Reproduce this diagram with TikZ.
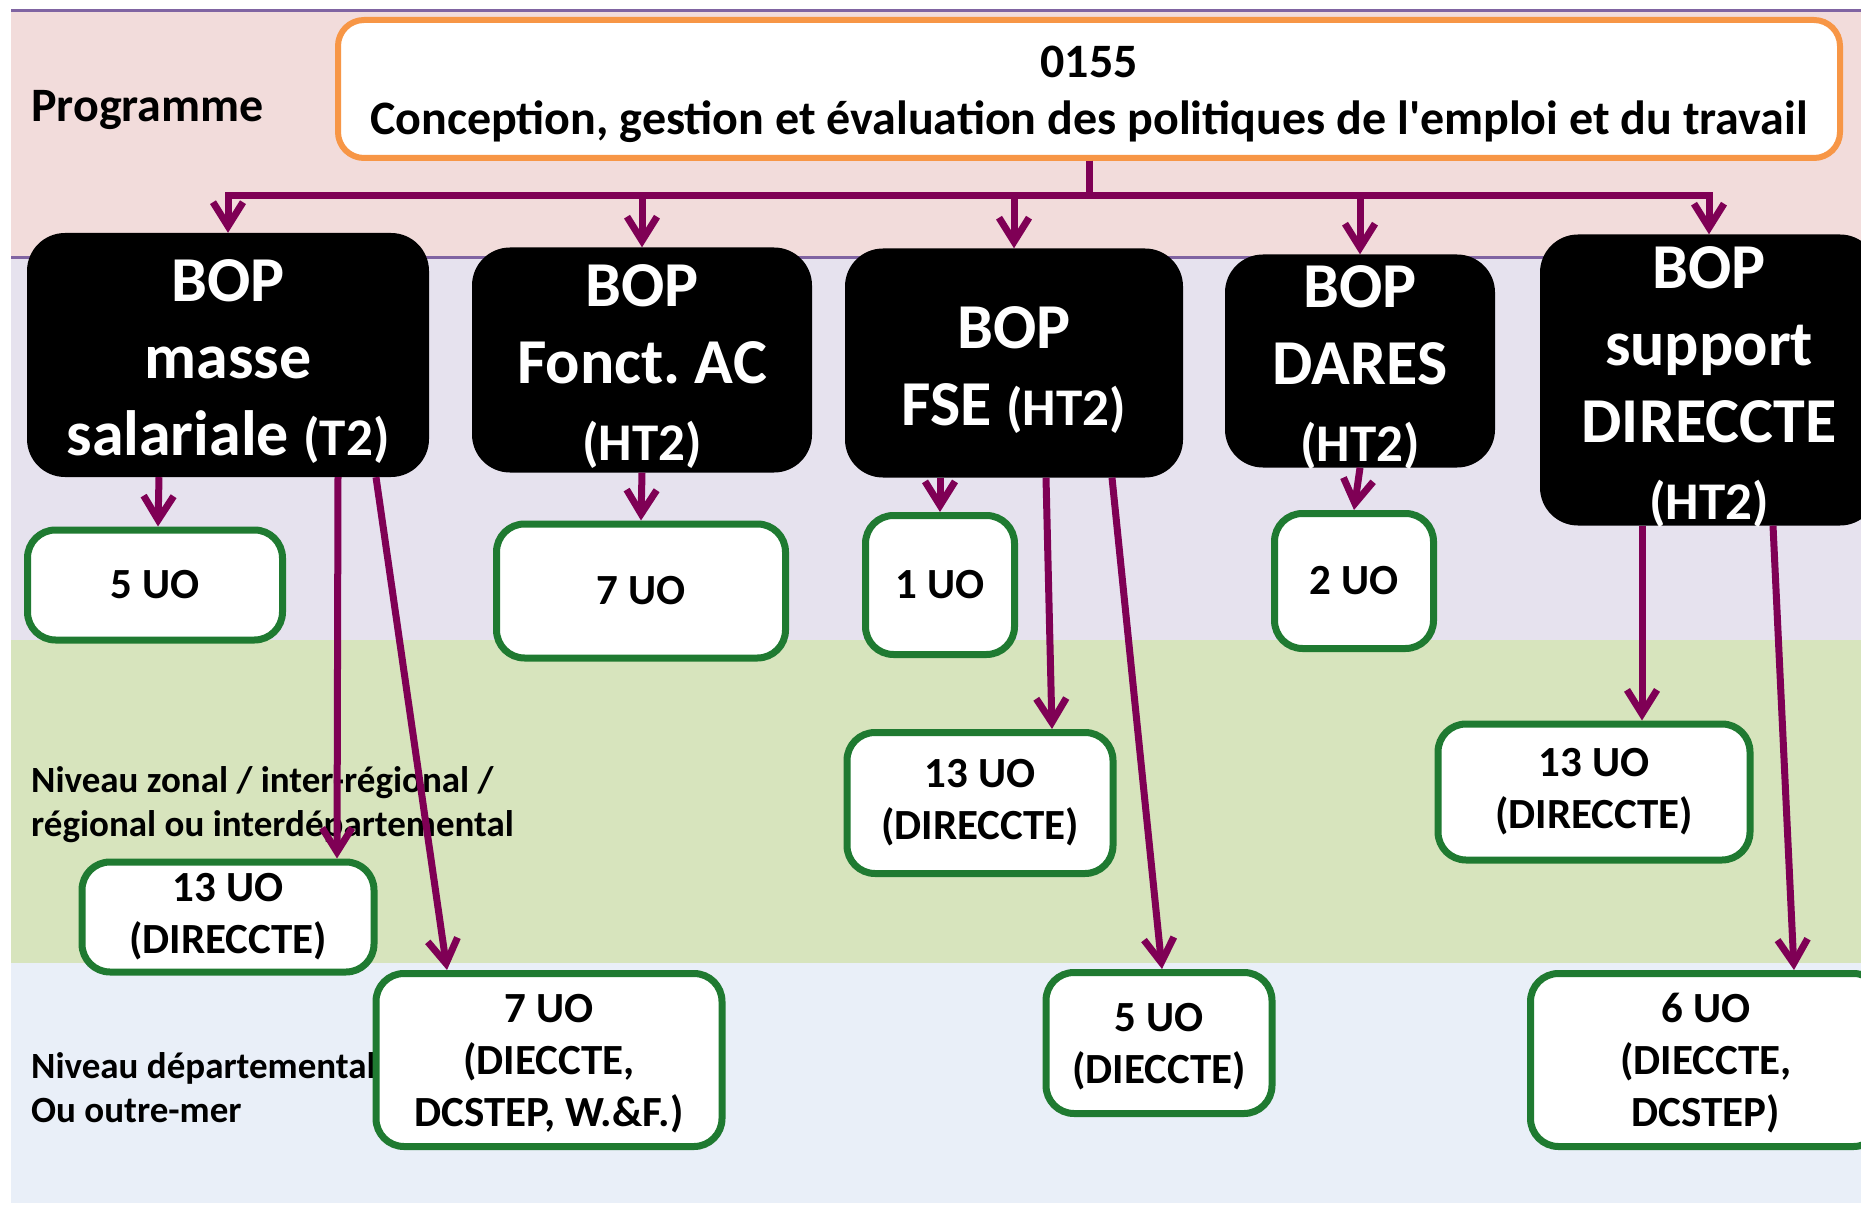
\documentclass[tikz,border=0pt]{standalone}
\usepackage{fontspec}
\setmainfont{Carlito}
\usetikzlibrary{
   arrows.meta,
   positioning
}

\definecolor{pinkband}{HTML}{F2DCDB}
\definecolor{lavband}{HTML}{E6E2EE}
\definecolor{greenband}{HTML}{D7E4BD}
\definecolor{blueband}{HTML}{E9EFF8}
\definecolor{bandline}{HTML}{8064A2}
\definecolor{linkpurple}{HTML}{7F0055}
\definecolor{uogreen}{HTML}{1F7A31}
\definecolor{progorange}{HTML}{F79646}

\newcommand{\htpart}[1]{{\fontsize{53}{64}\selectfont #1}}
\frenchspacing

\begin{document}
\begin{tikzpicture}[
    x=1pt, y=-1pt,
    bop/.style={rectangle, fill=black, rounded corners=38pt, inner sep=0pt},
    boptxt/.style={text=white, align=center, inner sep=0pt, yshift=-7pt, font=\bfseries\fontsize{64}{77}\selectfont},
    uo/.style={rectangle, draw=uogreen, line width=7pt, fill=white, rounded corners=28pt, inner sep=0pt, align=center, font=\bfseries\fontsize{43}{52}\selectfont},
    lvl/.style={anchor=west, align=left, inner sep=0pt, font=\bfseries\fontsize{37}{44}\selectfont},
    link/.style={draw=linkpurple, line width=7pt, -{Straight Barb[length=24pt,width=30pt]}}
]
\useasboundingbox (0,0) rectangle (1861,1206);

% level bands
\fill[pinkband] (11,11) rectangle (1861,258);
\fill[lavband] (11,258) rectangle (1861,640);
\fill[greenband] (11,640) rectangle (1861,963);
\fill[blueband] (11,963) rectangle (1861,1203);
\draw[bandline, line width=3pt] (11,11) -- (1861,11);
\draw[bandline, line width=3pt] (11,258) -- (1861,258);

% level labels
\node[lvl, anchor=base west, font=\bfseries\fontsize{48}{56}\selectfont] (progLbl) at (31,122) {Programme};
\node[lvl] (zonLbl) at (31,805) {Niveau zonal / inter-régional /\\régional ou interdépartemental};
\node[lvl] (depLbl) at (31,1088) {Niveau départemental\\Ou outre-mer};

% programme
\node[rectangle, draw=progorange, line width=6pt, fill=white, rounded corners=26pt,
      minimum width=1502pt, minimum height=138pt, align=center,
      font=\bfseries\fontsize{48}{57}\selectfont] (prog) at (1089,89)
      {\rule{0pt}{42pt}0155\\Conception, gestion et évaluation des politiques de l\textquotesingle emploi et du travail};

% BOP
\node[bop, minimum width=402pt, minimum height=244pt] (masse) at (228,355) {};
\node[boptxt] (masseTxt) at (masse) {BOP\\masse\\salariale \htpart{(T2)}};
\node[bop, minimum width=340pt, minimum height=225pt] (fonct) at (642,360) {};
\node[boptxt] (fonctTxt) at (fonct) {BOP\\Fonct. AC\\\htpart{(HT2)}};
\node[bop, minimum width=338pt, minimum height=229pt] (fse) at (1014,363) {};
\node[boptxt] (fseTxt) at (fse) {BOP\\FSE \htpart{(HT2)}};
\node[bop, minimum width=270pt, minimum height=213pt] (dares) at (1360,361) {};
\node[boptxt] (daresTxt) at (dares) {BOP\\DARES\\\htpart{(HT2)}};
\node[bop, minimum width=338pt, minimum height=291pt] (support) at (1709,380) {};
\node[boptxt] (supportTxt) at (support) {BOP\\support\\DIRECCTE\\\htpart{(HT2)}};

% UO
\node[uo, minimum width=255pt, minimum height=110pt] (uo5a) at (155,585) {5 UO};
\node[uo, minimum width=289pt, minimum height=134pt] (uo7a) at (641,591) {7 UO};
\node[uo, minimum width=149pt, minimum height=139pt] (uo1) at (940,585) {1 UO};
\node[uo, minimum width=159pt, minimum height=135pt] (uo2) at (1354,581) {2 UO};
\node[uo, minimum width=266pt, minimum height=141pt] (uo13b) at (980,803) {13 UO\\(DIRECCTE)};
\node[uo, minimum width=312pt, minimum height=136pt] (uo13c) at (1594,792) {13 UO\\(DIRECCTE)};
\node[uo, minimum width=292pt, minimum height=110pt] (uo13a) at (228,917) {13 UO\\(DIRECCTE)};
\node[uo, minimum width=346pt, minimum height=173pt] (uo7b) at (549,1060) {\rule{0pt}{36pt}7 UO\\(DIECCTE,\\DCSTEP, W.\&F.)};
\node[uo, minimum width=226pt, minimum height=141pt] (uo5b) at (1159,1043) {\rule{0pt}{36pt}5 UO\\(DIECCTE)};
\node[uo, minimum width=351pt, minimum height=173pt] (uo6) at (1706,1060) {\rule{0pt}{36pt}6 UO\\(DIECCTE,\\DCSTEP)};

% programme to BOP
\foreach \b in {masse,fonct,fse,dares,support}
  \draw[link] (prog.south) -- ++(0,35) -| (\b.north);

% BOP to UO
\draw[link] ([xshift=-69pt]masse.south) -- ([xshift=3pt]uo5a.north);
\draw[link] ([xshift=110pt]masse.south) -- ([xshift=109pt]uo13a.north);
\draw[link] ([xshift=148pt]masse.south) -- ([xshift=-102pt]uo7b.north);
\draw[link] (fonct.south) -- (uo7a.north);
\draw[link] ([xshift=-74pt]fse.south) -- (uo1.north);
\draw[link] ([xshift=32pt]fse.south) -- ([xshift=72pt]uo13b.north);
\draw[link] ([xshift=98pt]fse.south) -- ([xshift=3pt]uo5b.north);
\draw[link] (dares.south) -- (uo2.north);
\draw[link] ([xshift=-67pt]support.south) -- ([xshift=48pt]uo13c.north);
\draw[link] ([xshift=64pt]support.south) -- ([xshift=88pt]uo6.north);

\end{tikzpicture}
\end{document}
